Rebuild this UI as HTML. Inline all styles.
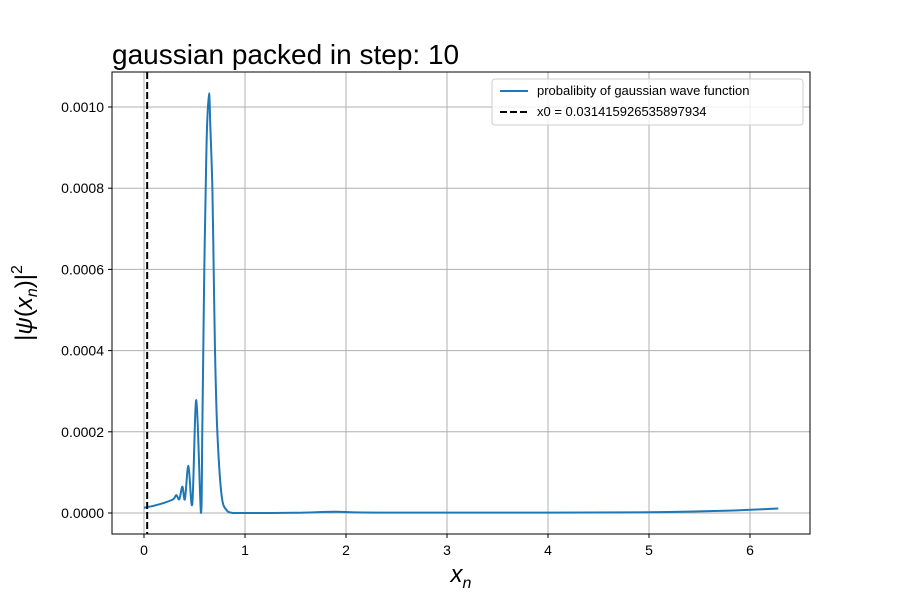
<!DOCTYPE html>
<html><head><meta charset="utf-8"><style>
body{margin:0;background:#fff;}
svg text{font-family:"Liberation Sans",sans-serif;fill:#000;}
</style></head><body>
<svg id="chart" width="900" height="600" xmlns="http://www.w3.org/2000/svg">
<rect width="900" height="600" fill="#fff"/>
<text x="112" y="64" font-size="28">gaussian packed in step: 10</text>
<g id="grid"></g>
<g id="ticks"></g>
<path id="series" fill="none" stroke="#1f77b4" stroke-width="2" stroke-linejoin="round"/>
<line id="x0line" stroke="#000" stroke-width="2" stroke-dasharray="7,3"/>
<rect x="112" y="72" width="698" height="462" fill="none" stroke="#000" stroke-width="1"/>
<text x="461" y="582" font-size="24" font-style="italic" text-anchor="middle" font-family="DejaVu Serif">x<tspan font-size="16" dy="6">n</tspan></text>
<text transform="translate(32,303) rotate(-90)" font-size="24" text-anchor="middle" font-family="DejaVu Serif">|<tspan font-style="italic">ψ</tspan>(<tspan font-style="italic">x</tspan><tspan font-size="16" dy="5" font-style="italic">n</tspan><tspan dy="-5">)|</tspan><tspan font-size="16" dy="-10">2</tspan></text>
<g>
<rect x="492" y="79" width="311" height="46" fill="#fff" fill-opacity="0.8" stroke="#ccc" rx="3"/>
<line x1="500" y1="91" x2="528" y2="91" stroke="#1f77b4" stroke-width="2"/>
<text x="537" y="95" font-size="13">probalibity of gaussian wave function</text>
<line x1="500" y1="112" x2="528" y2="112" stroke="#000" stroke-width="2" stroke-dasharray="7,3"/>
<text x="537" y="116" font-size="13">x0 = 0.031415926535897934</text>
</g>
</svg>
<script>
const xTicks=[0,1,2,3,4,5,6];
const yTicks=[0,0.0002,0.0004,0.0006,0.0008,0.001];
const yTickLabels=["0.0000","0.0002","0.0004","0.0006","0.0008","0.0010"];
const xVals=[0,0.1,0.2,0.29,0.32,0.35,0.38,0.405,0.44,0.478,0.518,0.564,0.577,0.587,0.597,0.611,0.624,0.644,0.657,0.677,0.69,0.703,0.726,0.768,0.818,0.88,0.95,1.5,1.9,2.3,4,5,5.8,6.28];
const yVals=[0.000013,0.000018,0.000025,0.000034,0.000044,0.000034,0.000065,0.000034,0.000116,0.000022,0.000278,0,0.0002,0.0004,0.0006,0.0008,0.00095,0.001034,0.00095,0.0008,0.0006,0.0004,0.0002,0.000044,0.000007,0,0,0.0000005,0.000003,0.000001,0.000001,0.000002,0.000006,0.000011];
const x0=0.031415926535897934;
const sx=v=>144+v*101;
const sy=v=>513-v*406000;
const NS="http://www.w3.org/2000/svg";
const grid=document.getElementById('grid'),ticks=document.getElementById('ticks');
function mk(tag,attrs,parent){const e=document.createElementNS(NS,tag);for(const k in attrs)e.setAttribute(k,attrs[k]);parent.appendChild(e);return e;}
xTicks.forEach(t=>{
 const g=mk('line',{x1:sx(t),x2:sx(t),y1:72,y2:534,stroke:'#b0b0b0','stroke-width':1},grid);
 
 
 mk('line',{x1:sx(t),x2:sx(t),y1:534,y2:538,stroke:'#000'},ticks);
 const tx=mk('text',{x:sx(t),y:555,'font-size':14,'text-anchor':'middle'},ticks);
 tx.textContent=t;
 
 
});
yTicks.forEach((t,i)=>{
 const g=mk('line',{x1:112,x2:810,y1:sy(t),y2:sy(t),stroke:'#b0b0b0','stroke-width':1},grid);
 
 
 mk('line',{x1:108,x2:112,y1:sy(t),y2:sy(t),stroke:'#000'},ticks);
 const tx=mk('text',{x:104,y:sy(t)+5,'font-size':14,'text-anchor':'end'},ticks);
 tx.textContent=yTickLabels[i];
 
 
});
const P=xVals.map((x,i)=>[sx(x),sy(yVals[i])]);
let d='M'+P[0][0]+','+P[0][1];
for(let i=0;i<P.length-1;i++){
 const p0=P[Math.max(0,i-1)],p1=P[i],p2=P[i+1],p3=P[Math.min(P.length-1,i+2)];
 const c1=[p1[0]+(p2[0]-p0[0])/6,p1[1]+(p2[1]-p0[1])/6];
 const c2=[p2[0]-(p3[0]-p1[0])/6,p2[1]-(p3[1]-p1[1])/6];
 d+=` C${c1[0]},${Math.min(513,c1[1])} ${c2[0]},${Math.min(513,c2[1])} ${p2[0]},${p2[1]}`;
}
document.getElementById('series').setAttribute('d',d);
const xl=document.getElementById('x0line');
xl.setAttribute('x1',sx(x0));xl.setAttribute('x2',sx(x0));xl.setAttribute('y1',72);xl.setAttribute('y2',534);
</script>
</body></html>
